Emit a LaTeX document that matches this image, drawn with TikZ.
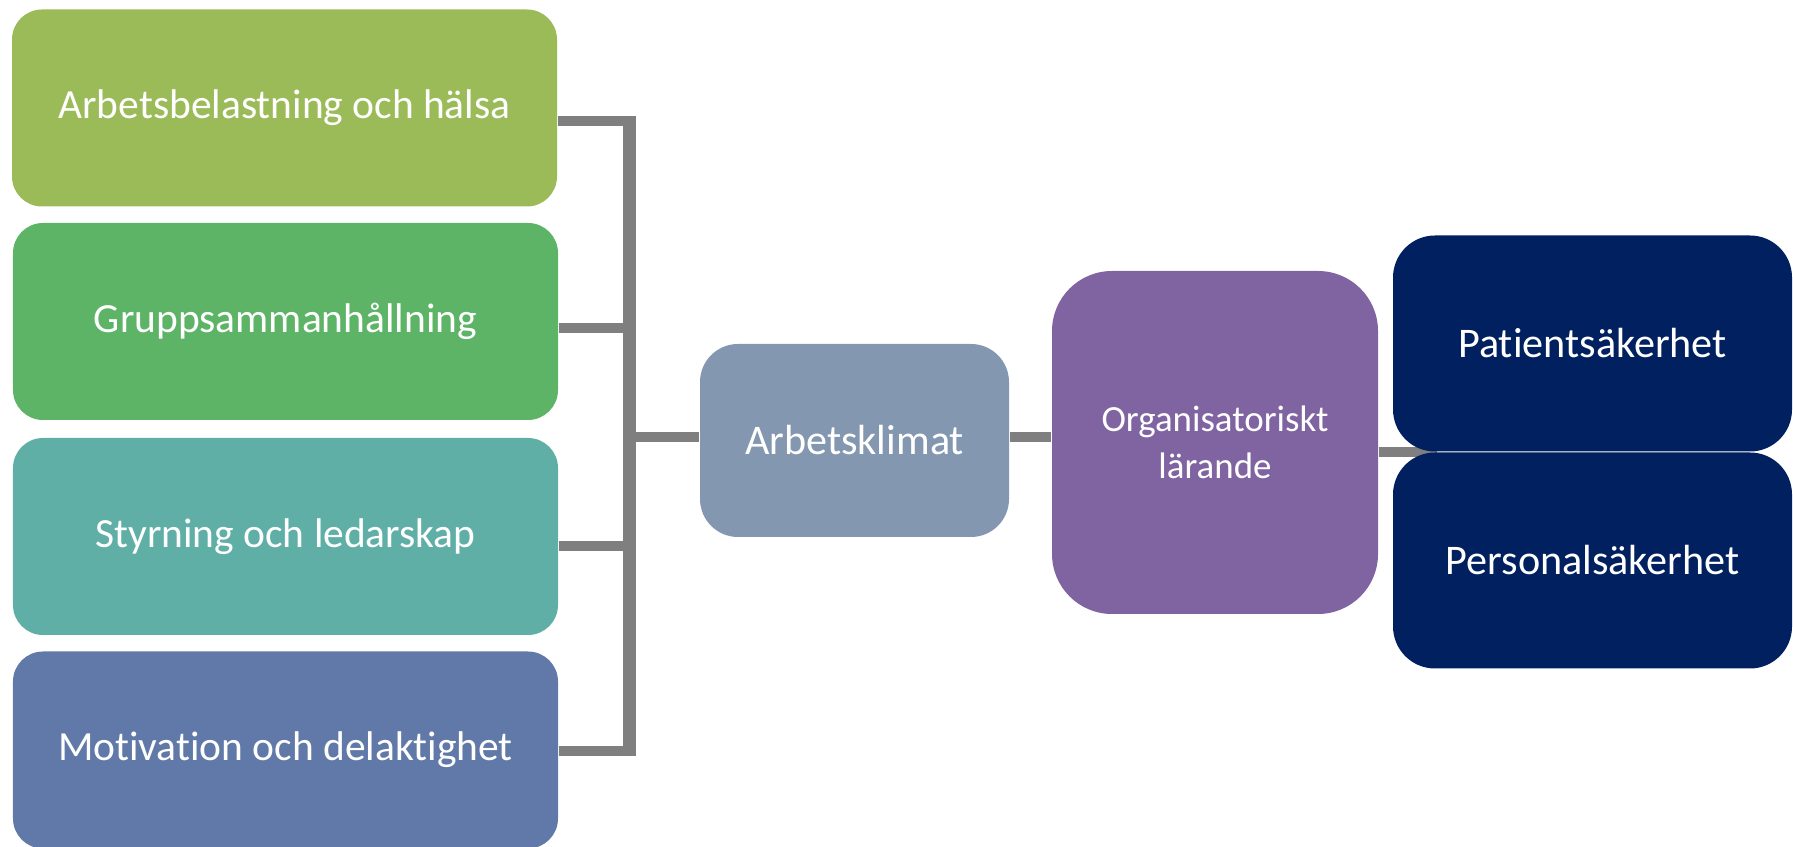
\documentclass[tikz,border=0pt]{standalone}
\usepackage{fontspec}
\setmainfont{Carlito}[RawFeature={-liga;-clig;-dlig}]
\usetikzlibrary{calc,backgrounds}

\definecolor{loadgreen}{HTML}{9BBB59}
\definecolor{groupgreen}{HTML}{5DB466}
\definecolor{leadteal}{HTML}{5FAFA6}
\definecolor{motivblue}{HTML}{6179A8}
\definecolor{climategray}{HTML}{8497B0}
\definecolor{learnpurple}{HTML}{8064A2}
\definecolor{safenavy}{HTML}{002060}
\definecolor{linkgray}{HTML}{7F7F7F}

\begin{document}
\begin{tikzpicture}[
  box/.style={rectangle,text=white,inner sep=0pt,align=center},
  leftbox/.style={box,rounded corners=0.3cm,minimum width=5.45cm,minimum height=1.97cm,
    font=\fontsize{11.8}{14}\selectfont},
  safebox/.style={box,fill=safenavy,rounded corners=0.42cm,minimum width=3.99cm,minimum height=2.16cm,
    font=\fontsize{12}{14}\selectfont},
  link/.style={linkgray,line width=2.85pt},
  bus/.style={linkgray,line width=3.6pt}
]
  \useasboundingbox (0,0) rectangle (17.93,-8.47);
  \clip (0,0) rectangle (17.93,-8.47);

  % factors on the left
  \node[leftbox,fill=loadgreen] (load) at (2.845,-1.08) {Arbetsbelastning och hälsa};
  \node[leftbox,fill=groupgreen] (group) at (2.855,-3.215) {Gruppsammanhållning};
  \node[leftbox,fill=leadteal] (lead) at (2.855,-5.365) {Styrning och ledarskap};
  \node[leftbox,fill=motivblue] (motiv) at (2.855,-7.50) {Motivation och delaktighet};

  % middle and right
  \node[box,fill=climategray,rounded corners=0.38cm,minimum width=3.09cm,minimum height=1.93cm,
    font=\fontsize{12}{14}\selectfont] (climate) at (8.545,-4.405) {Arbetsklimat};
  \node[box,fill=learnpurple,rounded corners=0.6cm,minimum width=3.26cm,minimum height=3.43cm,
    font=\fontsize{10.5}{13.4}\selectfont] (learn) at (12.15,-4.425) {Organisatoriskt\\lärande};
  \node[safebox] (patient) at (15.925,-3.435) {Patientsäkerhet};
  \node[safebox] (staff) at (15.925,-5.605) {Personalsäkerhet};

  % junctions on the bus
  \coordinate (j1) at (6.295,-1.21);
  \coordinate (j2) at (6.295,-3.28);
  \coordinate (j3) at (6.295,-5.46);
  \coordinate (j4) at (6.295,-7.51);
  \coordinate (jm) at (6.295,-4.37);

  \begin{scope}[on background layer]
    \draw[link] (j1 -| load.east) -- (j1);
    \draw[link] (j2 -| group.east) -- (j2);
    \draw[link] (j3 -| lead.east) -- (j3);
    \draw[link] (j4 -| motiv.east) -- (j4);
    \draw[bus] ($(j1)+(0,0.05)$) -- ($(j4)+(0,-0.05)$);
    \draw[link] (jm) -- (jm -| climate.west);
    \draw[link] (jm -| climate.east) -- (jm -| learn.west);
    \draw[link] (patient.south west -| learn.east) -- ($(patient.south west)+(0.45,0)$);
  \end{scope}
\end{tikzpicture}
\end{document}
